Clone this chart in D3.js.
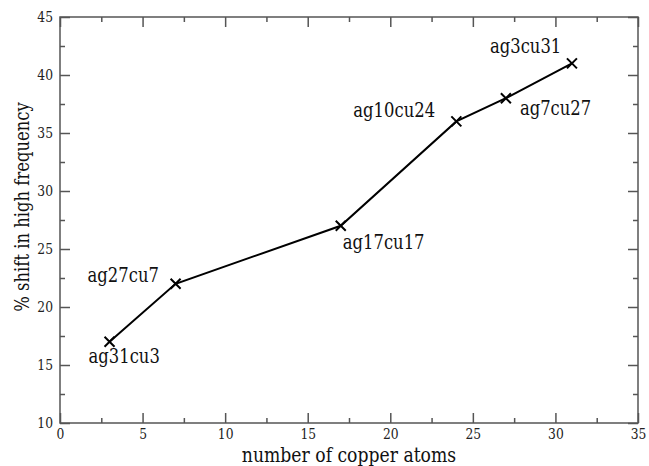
<!DOCTYPE html>
<html><head><meta charset="utf-8">
<script src="https://cdn.jsdelivr.net/npm/d3@7"></script>
<style>body{margin:0;background:#fff;} svg{display:block;}</style>
</head><body>
<svg id="c" width="649" height="466"></svg>
<script>
const copperAtoms = [3, 7, 17, 24, 27, 31];
const shiftPct = [17, 22, 27, 36, 38, 41];
const pointLabels = ["ag31cu3", "ag27cu7", "ag17cu17", "ag10cu24", "ag7cu27", "ag3cu31"];
const xTicks = [0, 5, 10, 15, 20, 25, 30, 35];
const yTicks = [10, 15, 20, 25, 30, 35, 40, 45];
const xLabel = "number of copper atoms";
const yLabel = "% shift in high frequency";

// label placement offsets from the point (left edge, baseline)
const labelPos = [
  {dx: -21, dy: 21},
  {dx: -88, dy: -2},
  {dx: 2, dy: 23},
  {dx: -103, dy: -4},
  {dx: 14, dy: 17},
  {dx: -82, dy: -10}
];

const svg = d3.select("#c");
const L = 60, R = 638, T = 17, B = 423;
const x = d3.scaleLinear().domain([0, 35]).range([L, R]);
const y = d3.scaleLinear().domain([10, 45]).range([B, T]);
const frameColor = "#555";
const font = "DejaVu Serif";
const squeeze = 0.82; // narrow DejaVu Serif toward a Times-like width

function narrow(sel) {
  sel.each(function () {
    const w = this.getComputedTextLength();
    d3.select(this).attr("textLength", w * squeeze).attr("lengthAdjust", "spacingAndGlyphs");
  });
  return sel;
}

const minorX = d3.range(2.5, 35, 5);
const minorY = d3.range(12.5, 45, 5);

function tickGroup(axisGen, tr) {
  const g = svg.append("g").attr("transform", tr).call(axisGen);
  g.select(".domain").remove();
  g.attr("font-family", font);
  g.selectAll("line").attr("stroke", frameColor).attr("stroke-width", 1.5);
  return g;
}
const bx = tickGroup(d3.axisBottom(x).tickValues(xTicks).tickSize(-10).tickPadding(5), `translate(0,${B})`);
narrow(bx.selectAll("text").attr("font-size", 15).attr("fill", "#222"));
tickGroup(d3.axisBottom(x).tickValues(minorX).tickSize(-5).tickFormat(""), `translate(0,${B})`);
tickGroup(d3.axisTop(x).tickValues(xTicks).tickSize(-10).tickFormat(""), `translate(0,${T})`);
tickGroup(d3.axisTop(x).tickValues(minorX).tickSize(-5).tickFormat(""), `translate(0,${T})`);
const ly = tickGroup(d3.axisLeft(y).tickValues(yTicks).tickSize(-10).tickPadding(7), `translate(${L},0)`);
narrow(ly.selectAll("text").attr("font-size", 15).attr("fill", "#222"));
tickGroup(d3.axisLeft(y).tickValues(minorY).tickSize(-5).tickFormat(""), `translate(${L},0)`);
tickGroup(d3.axisRight(y).tickValues(yTicks).tickSize(-10).tickFormat(""), `translate(${R},0)`);
tickGroup(d3.axisRight(y).tickValues(minorY).tickSize(-5).tickFormat(""), `translate(${R},0)`);

svg.append("rect").attr("x", L).attr("y", T).attr("width", R - L).attr("height", B - T)
  .attr("fill", "none").attr("stroke", frameColor).attr("stroke-width", 1.5);

const data = copperAtoms.map((v, i) => ({x: v, y: shiftPct[i], label: pointLabels[i], pos: labelPos[i]}));

svg.append("path").datum(data)
  .attr("d", d3.line().x(d => x(d.x)).y(d => y(d.y)))
  .attr("fill", "none").attr("stroke", "#000").attr("stroke-width", 2);

const s = 5;
svg.selectAll(".mk").data(data).enter().append("path")
  .attr("d", d => `M${x(d.x)-s},${y(d.y)-s}L${x(d.x)+s},${y(d.y)+s}M${x(d.x)-s},${y(d.y)+s}L${x(d.x)+s},${y(d.y)-s}`)
  .attr("stroke", "#000").attr("stroke-width", 2);

narrow(svg.selectAll(".lb").data(data).enter().append("text")
  .attr("x", d => x(d.x) + d.pos.dx).attr("y", d => y(d.y) + d.pos.dy)
  .attr("text-anchor", "start")
  .attr("font-family", font).attr("font-size", 20).attr("fill", "#111")
  .text(d => d.label));

narrow(svg.append("text").attr("x", (L + R) / 2).attr("y", 462).attr("text-anchor", "middle")
  .attr("font-family", font).attr("font-size", 21).attr("fill", "#111").text(xLabel));
narrow(svg.append("text").attr("transform", `translate(29,207) rotate(-90)`).attr("text-anchor", "middle")
  .attr("font-family", font).attr("font-size", 20).attr("fill", "#111").text(yLabel));
</script>
</body></html>
